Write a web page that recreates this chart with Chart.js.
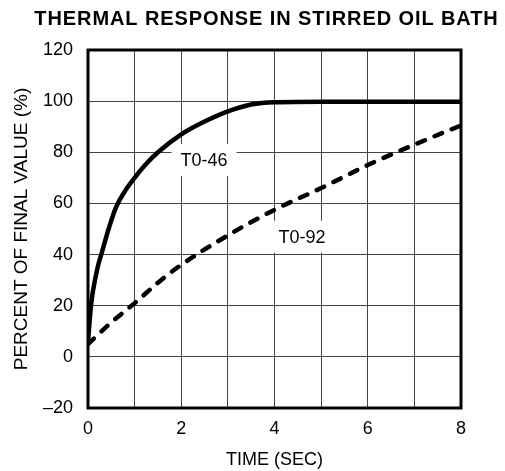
<!DOCTYPE html>
<html>
<head>
<meta charset="utf-8">
<script src="https://cdn.jsdelivr.net/npm/chart.js@4/dist/chart.umd.min.js"></script>
<style>
  html, body { margin: 0; padding: 0; background: #fff; }
  #wrap { position: relative; width: 505px; height: 471px; }
</style>
</head>
<body>
<div id="wrap"><canvas id="c" width="505" height="471"></canvas></div>
<script>
// ---- data ----
const t046X = [0, 0.064, 0.1, 0.2, 0.3, 0.45, 0.6, 0.8, 1, 1.25, 1.5, 2, 2.5, 3, 3.5, 4, 5, 6, 7, 8];
const t046Y = [6, 20, 25, 34.5, 41, 50.5, 58.5, 65, 70, 75.5, 80, 87, 92, 96, 98.7, 99.6, 99.8, 99.8, 99.8, 99.8];
const t092X = [0, 0.5, 1, 1.5, 2, 3, 4, 5, 6, 7, 8];
const t092Y = [5, 13.5, 21, 29, 36, 47.5, 57.5, 66, 75, 83, 90.5];
const seriesNames = ['T0-46', 'T0-92'];
const labelX = [2.49, 4.59];
const labelY = [77, 47];
const xTicks = [0, 2, 4, 6, 8];
const yTicks = [-20, 0, 20, 40, 60, 80, 100, 120];
const chartTitle = 'THERMAL RESPONSE IN STIRRED OIL BATH';
const xTitle = 'TIME (SEC)';
const yTitle = 'PERCENT OF FINAL VALUE (%)';

const FONT = '"Liberation Sans", Arial, Helvetica, sans-serif';

const toPts = (xs, ys) => xs.map((x, i) => ({ x: x, y: ys[i] }));

const framePlugin = {
  id: 'frame',
  beforeDatasetsDraw(chart) {
    const a = chart.chartArea, ctx = chart.ctx;
    ctx.save();
    ctx.strokeStyle = '#000';
    ctx.lineWidth = 3;
    ctx.strokeRect(a.left, a.top, a.right - a.left, a.bottom - a.top);
    ctx.restore();
  }
};

const labelPlugin = {
  id: 'seriesLabels',
  afterDatasetsDraw(chart) {
    const ctx = chart.ctx, xs = chart.scales.x, ys = chart.scales.y;
    ctx.save();
    ctx.font = '18px ' + FONT;
    ctx.textAlign = 'center';
    ctx.textBaseline = 'middle';
    seriesNames.forEach((name, i) => {
      const cx = xs.getPixelForValue(labelX[i]);
      const cy = ys.getPixelForValue(labelY[i]);
      const w = ctx.measureText(name).width + 18;
      const h = 32;
      ctx.fillStyle = '#fff';
      ctx.fillRect(cx - w / 2, cy - h / 2, w, h);
      ctx.fillStyle = '#000';
      ctx.fillText(name, cx, cy + 1);
    });
    ctx.restore();
  }
};

const titleTweak = {
  id: 'titleTweak',
  afterLayout(chart) {
    const tb = chart.titleBlock;
    if (tb) {
      tb.left += 14;
      tb.right += 14;
      if (!tb._wrapped) {
        const orig = tb.draw;
        tb.draw = function () {
          const ctx = this.ctx;
          ctx.save();
          ctx.letterSpacing = '0.9px';
          orig.apply(this, arguments);
          ctx.restore();
        };
        tb._wrapped = true;
      }
    }
  }
};

new Chart(document.getElementById('c'), {
  type: 'line',
  data: {
    datasets: [
      {
        label: seriesNames[0],
        data: toPts(t046X, t046Y),
        borderColor: '#000',
        borderWidth: 4.5,
        pointRadius: 0,
        cubicInterpolationMode: 'monotone',
        fill: false
      },
      {
        label: seriesNames[1],
        data: toPts(t092X, t092Y),
        borderColor: '#000',
        borderWidth: 4.5,
        borderDash: [8, 10.5],
        borderCapStyle: 'round',
        pointRadius: 0,
        cubicInterpolationMode: 'monotone',
        fill: false
      }
    ]
  },
  options: {
    responsive: false,
    animation: false,
    devicePixelRatio: 1,
    layout: { padding: { left: 0, right: 0, top: 0, bottom: 0 } },
    plugins: {
      legend: { display: false },
      tooltip: { enabled: false },
      title: {
        display: true,
        text: chartTitle,
        color: '#000',
        font: { family: FONT, size: 20, weight: 'bold' },
        padding: { top: 7, bottom: 19 }
      }
    },
    scales: {
      x: {
        type: 'linear',
        min: 0, max: 8,
        afterBuildTicks(s) { s.ticks = xTicks.map(v => ({ value: v })); },
        afterFit(s) { s.height = 63; },
        grid: { color: '#444', lineWidth: 1, drawTicks: false },
        border: { display: false },
        ticks: {
          color: '#000',
          font: { family: FONT, size: 18 },
          padding: 10,
          maxRotation: 0,
          autoSkip: false
        },
        title: {
          display: true, text: xTitle, color: '#000',
          font: { family: FONT, size: 18 },
          padding: { top: 3, bottom: 0 }
        }
      },
      xg: {
        type: 'linear',
        display: true,
        position: 'bottom',
        min: 0, max: 8,
        afterFit(s) { s.height = 0; },
        ticks: { display: false, stepSize: 1 },
        grid: { color: '#444', lineWidth: 1, drawTicks: false },
        border: { display: false }
      },
      y: {
        type: 'linear',
        min: -20, max: 120,
        afterBuildTicks(s) { s.ticks = yTicks.map(v => ({ value: v })); },
        afterFit(s) { s.width = 88; },
        grid: { color: '#444', lineWidth: 1, drawTicks: false },
        border: { display: false },
        ticks: {
          color: '#000',
          font: { family: FONT, size: 18 },
          padding: 15,
          callback: v => (v < 0 ? '\u2013' + Math.abs(v) : String(v))
        },
        title: {
          display: true, text: yTitle, color: '#000',
          font: { family: FONT, size: 19 },
          padding: { top: 10, bottom: 0 }
        }
      },
      y2: {
        type: 'linear',
        position: 'right',
        display: true,
        min: 0, max: 1,
        afterFit(s) { s.width = 44; },
        ticks: { display: false },
        grid: { display: false, drawTicks: false },
        border: { display: false }
      }
    }
  },
  plugins: [framePlugin, labelPlugin, titleTweak]
});
</script>
</body>
</html>
